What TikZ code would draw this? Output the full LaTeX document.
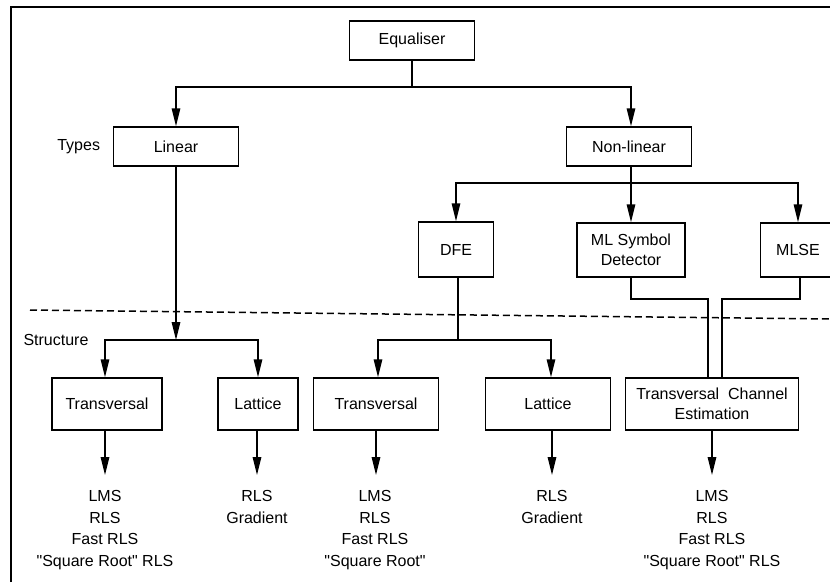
\documentclass[tikz,border=0pt]{standalone}
\usepackage{fontspec}
\setmainfont{Liberation Sans}[Ligatures=TeXOff]
\usetikzlibrary{arrows.meta, calc, positioning}

\tikzset{
  box/.style={draw, inner sep=0pt, align=center, font=\fontsize{16}{19.5}\selectfont},
  arr/.style={-{Triangle[length=18pt,width=8.5pt]}},
  alg/.style={align=center, inner sep=0pt, anchor=north, font=\fontsize{16}{21.5}\selectfont},
  lbl/.style={inner sep=0pt, font=\fontsize{16}{19.5}\selectfont},
}

\begin{document}
\begin{tikzpicture}[x=1pt, y=-1pt, line width=1.5pt]
\useasboundingbox (0,0) rectangle (830,582);

% Frame round the chart (left and top edges only)
\draw[line width=1.8pt] (11,582) -- (11,7) -- (830,7);

% Root and the two types
\node[box, minimum width=125pt, minimum height=39pt] (eq) at (412,40.5) {Equaliser};
\node[box, minimum width=125pt, minimum height=39pt] (lin) at (176,146.5) {Linear};
\node[box, minimum width=125pt, minimum height=39pt] (nonlin) at (629,146.5) {Non-linear};
\node[lbl, left=12pt of lin] (types) {Types};

% Non-linear sub-types
\node[box, minimum width=75pt, minimum height=55pt] (dfe) at (456,249.5) {DFE};
\node[box, minimum width=108pt, minimum height=54pt] (mlsd) at (631,250) {ML Symbol\\Detector};
\node[box, minimum width=75pt, minimum height=54pt] (mlse) at (798,250) {MLSE};

% Structures
\node[box, minimum width=110pt, minimum height=52pt] (trA) at (107,404) {Transversal};
\node[box, minimum width=80pt, minimum height=52pt] (latA) at (258,404) {Lattice};
\node[box, minimum width=125pt, minimum height=52pt] (trB) at (376,404) {Transversal};
\node[box, minimum width=125pt, minimum height=52pt] (latB) at (548,404) {Lattice};
\node[box, minimum width=173pt, minimum height=52pt] (tce) at (712,404) {Transversal~~Channel\\Estimation};
\node[lbl] (struct) at (56,340) {Structure};

% Algorithms under each structure
\node[alg] (algA) at (105,490) {LMS\\RLS\\Fast RLS\\"Square Root" RLS};
\node[alg] (algB) at (257,490) {RLS\\Gradient};
\node[alg] (algC) at (375,490) {LMS\\RLS\\Fast RLS\\"Square Root"};
\node[alg] (algD) at (552,490) {RLS\\Gradient};
\node[alg] (algE) at (712,490) {LMS\\RLS\\Fast RLS\\"Square Root" RLS};

% Dashed divider between types and structures
\draw[dashed, dash pattern=on 7pt off 4pt] (30,310) -- (830,319);

% Root to types
\coordinate (eqsplit) at (eq.south |- 0,87);
\draw (eq.south) -- (eqsplit);
\draw[arr] (eqsplit) -| (lin.north);
\draw[arr] (eqsplit) -| ([xshift=2pt]nonlin.north);

% Non-linear to its sub-types
\coordinate (nlsplit) at ([xshift=2pt]nonlin.south |- 0,183);
\draw ([xshift=2pt]nonlin.south) -- (nlsplit);
\draw[arr] (nlsplit) -| (dfe.north);
\draw[arr] (nlsplit) -| (mlsd.north);
\draw[arr] (nlsplit) -| (mlse.north);

% Linear to its structures
\coordinate (linsplit) at (lin.south |- 0,340);
\draw[arr] (lin.south) -- (linsplit);
\draw[arr] (linsplit) -| ([xshift=-2pt]trA.north);
\draw[arr] (linsplit) -| (latA.north);

% DFE to its structures
\coordinate (dfesplit) at ([xshift=2pt]dfe.south |- 0,340);
\draw ([xshift=2pt]dfe.south) -- (dfesplit);
\draw[arr] (dfesplit) -| ([xshift=2pt]trB.north);
\draw[arr] (dfesplit) -| ([xshift=3pt]latB.north);

% ML detectors share the channel estimator
\draw (mlsd.south) |- ([xshift=-4pt]tce.north |- 0,299) -- ([xshift=-4pt]tce.north);
\draw ([xshift=2pt]mlse.south) |- ([xshift=10pt]tce.north |- 0,299) -- ([xshift=10pt]tce.north);

% Structures to algorithms
\draw[arr] ([xshift=-2pt]trA.south) -- ([yshift=15pt]algA.north);
\draw[arr] ([xshift=-1pt]latA.south) -- ([yshift=15pt]algB.north);
\draw[arr] (trB.south) -- ([yshift=15pt]algC.north -| trB.south);
\draw[arr] ([xshift=4pt]latB.south) -- ([yshift=15pt]algD.north);
\draw[arr] (tce.south) -- ([yshift=15pt]algE.north);

\end{tikzpicture}
\end{document}
